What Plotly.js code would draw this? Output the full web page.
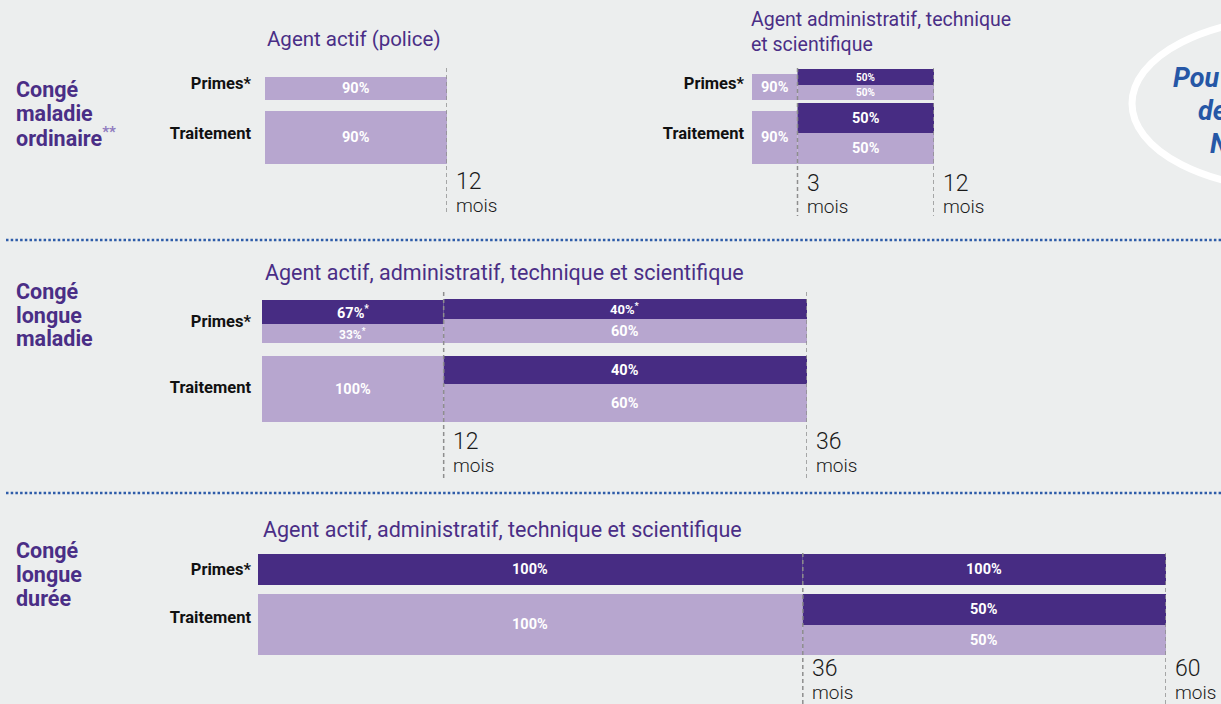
<!DOCTYPE html>
<html>
<head>
<meta charset="utf-8">
<script src="https://cdn.plot.ly/plotly-3.0.1.min.js"></script>
<style>
html,body{margin:0;padding:0;background:#ECEEEE;}
#chart{width:1221px;height:704px;}
</style>
</head>
<body>
<div id="chart"></div>
<script>
// ================= DATA =================
const sectionTitles = [
  ['Congé', 'maladie', 'ordinaire**'],
  ['Congé', 'longue', 'maladie'],
  ['Congé', 'longue', 'durée']
];
const rowLabels = ['Primes*', 'Traitement'];
const monthUnit = 'mois';
const sideNote = ['Pou', 'de', 'N'];

// Congé maladie ordinaire — agent actif (police)
const A_title = 'Agent actif (police)';
const A_row   = [0, 1];
const A_start = [0, 0];
const A_end   = [12, 12];
const A_tone  = ['light', 'light'];
const A_text  = ['90%', '90%'];
const A_ticks = [12];

// Congé maladie ordinaire — agent administratif, technique et scientifique
const B_title = 'Agent administratif, technique<br>et scientifique';
const B_row   = [0, 0, 0, 1, 1, 1];
const B_start = [0, 3, 3, 0, 3, 3];
const B_end   = [3, 12, 12, 3, 12, 12];
const B_tone  = ['light', 'dark', 'light', 'light', 'dark', 'light'];
const B_text  = ['90%', '50%', '50%', '90%', '50%', '50%'];
const B_ticks = [3, 12];

// Congé longue maladie
const C_title = 'Agent actif, administratif, technique et scientifique';
const C_row   = [0, 0, 0, 0, 1, 1, 1];
const C_start = [0, 0, 12, 12, 0, 12, 12];
const C_end   = [12, 12, 36, 36, 12, 36, 36];
const C_tone  = ['dark', 'light', 'dark', 'light', 'light', 'dark', 'light'];
const C_text  = ['67%*', '33%*', '40%*', '60%', '100%', '40%', '60%'];
const C_ticks = [12, 36];

// Congé longue durée
const D_title = 'Agent actif, administratif, technique et scientifique';
const D_row   = [0, 0, 1, 1, 1];
const D_start = [0, 36, 0, 36, 36];
const D_end   = [36, 60, 36, 60, 60];
const D_tone  = ['dark', 'dark', 'light', 'dark', 'light'];
const D_text  = ['100%', '100%', '100%', '50%', '50%'];
const D_ticks = [36, 60];

// ================= STYLE / LAYOUT GEOMETRY (pixels) =================
const W = 1221, H = 704;
const BG = '#ECEEEE';
const TONE = {light: '#B7A6CF', dark: '#472C83'};
const PURPLE = '#4A2E86';
const FONT = 'Roboto, "Open Sans", sans-serif';

// bar thickness bands (top, bottom pixel) for each segment, parallel to the data arrays
const A_band = [[77, 100], [111, 164]];
const B_band = [[74, 100], [69, 85], [85, 100], [111, 164], [103, 133], [133, 164]];
const C_band = [[300, 324], [324, 343], [299, 319], [319, 343], [356, 422], [356, 384], [384, 422]];
const D_band = [[554, 585], [554, 585], [594, 655], [594, 625], [625, 655]];

const geo = {
  A: {x0: 265, x1: 447, range: [0, 12], rowPx: [83, 133], yTop: 55, yBot: 175, standoff: 13,
      dash: [68, 212], num: 181, mois: 205, title: {x: 266, y: 39, size: 20.5}},
  B: {x0: 752, x1: 934, range: [0, 12], rowPx: [83, 133], yTop: 55, yBot: 175, standoff: 7,
      dash: [68, 216], num: 183, mois: 207, title: {x: 750, y: 32, size: 19.5}},
  C: {x0: 262, x1: 807, range: [0, 36], rowPx: [321, 387], yTop: 285, yBot: 430, standoff: 10,
      dash: [292, 480], num: 441, mois: 465, title: {x: 264, y: 272, size: 21.5}},
  D: {x0: 258, x1: 1166, range: [0, 60], rowPx: [569, 617], yTop: 545, yBot: 662, standoff: 6,
      dash: [553, 704], num: 668, mois: 692, title: {x: 262, y: 529, size: 21.5}}
};

const panels = [
  {id: 'A', title: A_title, row: A_row, start: A_start, end: A_end, tone: A_tone, text: A_text, ticks: A_ticks, band: A_band},
  {id: 'B', title: B_title, row: B_row, start: B_start, end: B_end, tone: B_tone, text: B_text, ticks: B_ticks, band: B_band},
  {id: 'C', title: C_title, row: C_row, start: C_start, end: C_end, tone: C_tone, text: C_text, ticks: C_ticks, band: C_band},
  {id: 'D', title: D_title, row: D_row, start: D_start, end: D_end, tone: D_tone, text: D_text, ticks: D_ticks, band: D_band}
];

const sectionLineY = [[89, 113, 137], [291, 315, 339], [550, 574, 598]];
const separatorsY = [240, 493];

const px = x => x / W;
const py = y => 1 - y / H;
const supStar = s => s.replace(/(\*+)$/, '<sup>$1</sup>');

const traces = [];
const layout = {
  width: W, height: H,
  margin: {l: 0, r: 0, t: 0, b: 0, pad: 0},
  paper_bgcolor: BG, plot_bgcolor: 'rgba(0,0,0,0)',
  showlegend: false, barmode: 'overlay', hovermode: false,
  font: {family: FONT},
  annotations: [], shapes: []
};

panels.forEach((p, i) => {
  const g = geo[p.id];
  const n = i === 0 ? '' : String(i + 1);
  const xr = 'x' + n, yr = 'y' + n;
  const u = g.rowPx[1] - g.rowPx[0];

  layout['xaxis' + n] = {
    domain: [px(g.x0), px(g.x1)], range: g.range, anchor: yr,
    showgrid: false, zeroline: false, showline: false, showticklabels: false, ticks: '', automargin: false
  };
  layout['yaxis' + n] = {
    domain: [py(g.yBot), py(g.yTop)],
    range: [(g.yBot - g.rowPx[0]) / u, (g.yTop - g.rowPx[0]) / u],
    anchor: xr, tickvals: [0, 1], ticktext: rowLabels, ticks: '',
    ticklabelstandoff: g.standoff,
    tickfont: {family: FONT, size: 16.5, color: '#111111', weight: 700},
    showgrid: false, zeroline: false, showline: false, automargin: false
  };

  const offsets = [], widths = [], colors = [], lens = [];
  p.row.forEach((r, k) => {
    const b = p.band[k];
    offsets.push((b[0] - g.rowPx[0]) / u - r);
    widths.push((b[1] - b[0]) / u);
    colors.push(TONE[p.tone[k]]);
    lens.push(p.end[k] - p.start[k]);
    // percentage label
    const h = b[1] - b[0];
    layout.annotations.push({
      xref: xr, yref: yr, x: (p.start[k] + p.end[k]) / 2,
      y: ((b[0] + b[1]) / 2 - g.rowPx[0]) / u,
      text: supStar(p.text[k]), showarrow: false, xanchor: 'center', yanchor: 'middle', borderpad: 0,
      font: {family: FONT, size: Math.min(14.5, Math.round(h * 0.64)), color: '#FFFFFF', weight: 700}
    });
  });
  traces.push({
    type: 'bar', orientation: 'h', xaxis: xr, yaxis: yr,
    y: p.row, base: p.start, x: lens,
    offset: offsets, width: widths,
    marker: {color: colors, line: {width: 0}},
    hoverinfo: 'skip', textposition: 'none'
  });

  // breakpoints: dashed line + month label
  p.ticks.forEach(t => {
    layout.shapes.push({
      type: 'line', xref: xr, yref: 'paper', x0: t, x1: t, y0: py(g.dash[0]), y1: py(g.dash[1]),
      line: {color: '#8E8E8E', width: 1.5, dash: '4px,3px'}, layer: 'above'
    });
    layout.annotations.push({
      xref: xr, yref: 'paper', x: t, y: py(g.num), xshift: 8, xanchor: 'left', yanchor: 'middle',
      text: String(t), showarrow: false, borderpad: 0,
      font: {family: FONT, size: 23, color: '#1A1A1A', weight: 300}
    });
    layout.annotations.push({
      xref: xr, yref: 'paper', x: t, y: py(g.mois), xshift: 8, xanchor: 'left', yanchor: 'middle',
      text: monthUnit, showarrow: false, borderpad: 0,
      font: {family: FONT, size: 19, color: '#1A1A1A', weight: 300}
    });
  });

  // panel title
  layout.annotations.push({
    xref: 'paper', yref: 'paper', x: px(g.title.x), y: py(g.title.y), xanchor: 'left', yanchor: 'middle',
    align: 'left', text: p.title, showarrow: false, borderpad: 0,
    font: {family: FONT, size: g.title.size, color: PURPLE, weight: 400}
  });
});

// section titles
sectionTitles.forEach((lines, s) => {
  lines.forEach((ln, j) => {
    layout.annotations.push({
      xref: 'paper', yref: 'paper', x: px(15), y: py(sectionLineY[s][j]), xanchor: 'left', yanchor: 'middle',
      text: ln.replace(/(\*+)$/, '<sup><span style="color:#8F7BBE">$1</span></sup>'), showarrow: false,
      borderpad: 0,
      font: {family: FONT, size: 21.5, color: PURPLE, weight: 700}
    });
  });
});

// dotted separators
separatorsY.forEach(y => {
  layout.shapes.push({
    type: 'line', xref: 'paper', yref: 'paper', x0: px(6), x1: 1.01, y0: py(y), y1: py(y),
    line: {color: '#2E5CA9', width: 2.5, dash: '2.5px,2.2px'}
  });
});

// side bubble (partially visible)
layout.shapes.push({
  type: 'circle', xref: 'paper', yref: 'paper',
  x0: px(1132), x1: px(1470), y0: py(190), y1: py(17),
  line: {color: '#FFFFFF', width: 7}, fillcolor: 'rgba(0,0,0,0)'
});
const noteX = [1172, 1197, 1209], noteY = [78, 111, 144];
sideNote.forEach((t, j) => {
  layout.annotations.push({
    xref: 'paper', yref: 'paper', x: px(noteX[j]), y: py(noteY[j]), xanchor: 'left', yanchor: 'middle',
    text: t, showarrow: false, borderpad: 0,
    font: {family: FONT, size: 27, color: '#2657A6', weight: 700, style: 'italic'}
  });
});

Plotly.newPlot('chart', traces, layout, {displayModeBar: false, staticPlot: true});
</script>
</body>
</html>
